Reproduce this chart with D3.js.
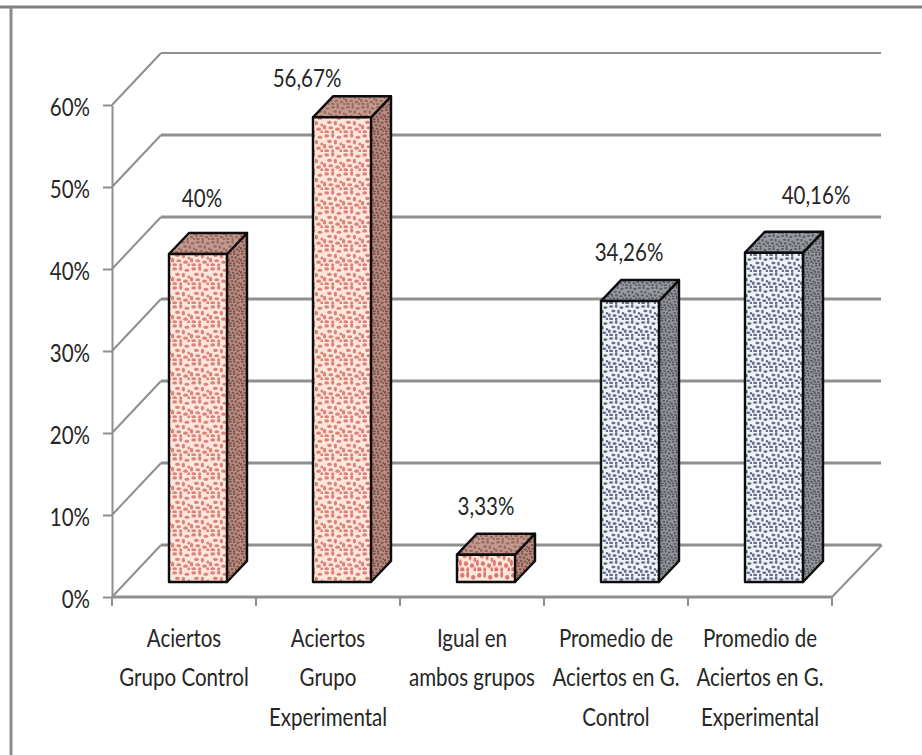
<!DOCTYPE html>
<html>
<head>
<meta charset="utf-8">
<script src="https://cdn.jsdelivr.net/npm/d3@7"></script>
<style>
  html, body { margin: 0; padding: 0; background: #fff; }
  svg { display: block; }
  text { font-family: Lato, "Open Sans", sans-serif; fill: #262626; }
</style>
</head>
<body>
<svg width="922" height="755"></svg>
<script>
const categories = [
  ["Aciertos", "Grupo Control"],
  ["Aciertos", "Grupo", "Experimental"],
  ["Igual en", "ambos grupos"],
  ["Promedio de", "Aciertos en G.", "Control"],
  ["Promedio de", "Aciertos en G.", "Experimental"]
];
const values = [40, 56.67, 3.33, 34.26, 40.16];
const valueLabels = ["40%", "56,67%", "3,33%", "34,26%", "40,16%"];
const seriesGroup = ["red", "red", "red", "blue", "blue"];
const yTicks = [0, 10, 20, 30, 40, 50, 60];

// hand moved data labels, same as in the original sheet
const labelNudge = [[-6, -6], [-45, 11], [-10, 1], [-11, 1], [32, -8]];

const GRID = "#8f8f8f";
const FONT_SIZE = 26;
const SQUEEZE = 0.79;
const FLOOR_DX = 49, FLOOR_DY = 52;
const BAR_DX = 15, BAR_DY = 15;
const DEPTH_X = 20, DEPTH_Y = 21;
const BAR_W = 58;

const svg = d3.select("svg");

const y = d3.scaleLinear().domain([0, 60]).range([597, 105]);
const x = d3.scaleBand().domain(d3.range(categories.length)).range([112, 832]);

// the reference font is condensed, so squash the real text
function squeeze(sel) {
  sel.each(function () {
    const t = d3.select(this);
    t.attr("x", (+t.attr("x") || 0) / SQUEEZE).attr("transform", `scale(${SQUEEZE},1)`);
  });
}

// speckle used for the bar fills
const speckle = [
  [1, 1, 3, 2], [6, 0, 2, 3], [10, 2, 3, 2], [3, 5, 3, 2], [8, 5, 2, 3],
  [0, 8, 2, 3], [12, 7, 2, 2], [4, 9, 3, 2], [9, 10, 3, 2], [1, 12, 3, 2], [6, 12, 2, 2], [12, 12, 2, 2]
];
const defs = svg.append("defs");
defs.append("filter").attr("id", "soft")
  .append("feGaussianBlur").attr("stdDeviation", 0.55);

function addPattern(id, base, dot, size, stretch) {
  const unit = size / 14;
  const p = defs.append("pattern")
    .attr("id", id)
    .attr("patternUnits", "userSpaceOnUse")
    .attr("width", size)
    .attr("height", size);
  if (stretch) p.attr("patternTransform", `scale(1,${stretch})`);
  p.append("rect").attr("width", size).attr("height", size).attr("fill", base);
  p.selectAll("rect.dot")
    .data(speckle)
    .enter()
    .append("rect")
    .attr("class", "dot")
    .attr("x", d => d[0] * unit)
    .attr("y", d => d[1] * unit)
    .attr("width", d => d[2] * unit * 1.15)
    .attr("height", d => d[3] * unit * 1.15)
    .attr("rx", size / 10)
    .attr("fill", dot);
}
addPattern("redFront", "#fde6dc", "#dc8278", 19);
addPattern("redFrontTall", "#fde6dc", "#d9766d", 17, 1.6);
addPattern("redTop", "#c39a8e", "#9c6a62", 15);
addPattern("redSide", "#b58a80", "#7f524c", 12);
addPattern("blueFront", "#f0f2f7", "#65708f", 16);
addPattern("blueTop", "#9a9ba0", "#5c5e66", 13);
addPattern("blueSide", "#939499", "#55575e", 11);

// frame of the pasted picture
svg.append("line").attr("x1", 0).attr("x2", 922).attr("y1", 7).attr("y2", 7)
  .attr("stroke", "#808080").attr("stroke-width", 3);
svg.append("line").attr("x1", 11).attr("x2", 11).attr("y1", 7).attr("y2", 755)
  .attr("stroke", "#8c8c8c").attr("stroke-width", 3);

// back wall gridlines and side wall diagonals
const grid = svg.append("g").attr("stroke", GRID).attr("fill", "none");
grid.selectAll(".back")
  .data(yTicks)
  .enter()
  .append("path")
  .attr("class", "back")
  .attr("stroke-width", d => d === 60 ? 2 : 3)
  .attr("d", d => `M${x.range()[0] + FLOOR_DX},${y(d) - FLOOR_DY}H${x.range()[1] + FLOOR_DX}`);
grid.selectAll(".diag")
  .data(yTicks)
  .enter()
  .append("path")
  .attr("class", "diag")
  .attr("stroke-width", 2)
  .attr("d", d => `M${x.range()[0]},${y(d)}l${FLOOR_DX},${-FLOOR_DY}`);
grid.append("path")
  .attr("stroke-width", 2)
  .attr("d", `M${x.range()[1]},${y(0)}l${FLOOR_DX + 1},${-FLOOR_DY}`);

// y axis
const yAxis = svg.append("g")
  .attr("transform", `translate(${x.range()[0]},0)`)
  .call(d3.axisLeft(y).tickValues(yTicks).tickFormat(d => d + "%").tickSize(9).tickPadding(13).tickSizeOuter(0));
yAxis.select(".domain").attr("stroke", GRID).attr("stroke-width", 2);
yAxis.selectAll(".tick line").attr("stroke", GRID).attr("stroke-width", 2);
yAxis.selectAll(".tick text")
  .attr("font-size", FONT_SIZE)
  .attr("font-family", "Lato, 'Open Sans', sans-serif")
  .attr("fill", "#262626")
  .attr("dy", "0.4em")
  .call(squeeze);

// x axis, ticks sit between the categories
const edges = d3.range(categories.length + 1).map(i => x.range()[0] + i * x.bandwidth());
svg.append("line")
  .attr("x1", x.range()[0]).attr("x2", x.range()[1])
  .attr("y1", y(0)).attr("y2", y(0))
  .attr("stroke", GRID).attr("stroke-width", 3);
svg.selectAll(".xtick")
  .data(edges)
  .enter()
  .append("line")
  .attr("class", "xtick")
  .attr("x1", d => d).attr("x2", d => d)
  .attr("y1", y(0)).attr("y2", y(0) + 9)
  .attr("stroke", GRID).attr("stroke-width", 2);

// bars
const baseY = y(0) - BAR_DY;
const barTop = d => y(d) - BAR_DY;
const barX = i => x(i) + (x.bandwidth() - BAR_W) / 2 + BAR_DX - 1;

const bars = svg.selectAll(".bar")
  .data(values)
  .enter()
  .append("g")
  .attr("class", "bar")
  .attr("filter", "url(#soft)")
  .attr("stroke", "#111")
  .attr("stroke-width", 2.4)
  .attr("stroke-linejoin", "round");

bars.append("path")
  .attr("fill", (d, i) => `url(#${seriesGroup[i]}Side)`)
  .attr("d", (d, i) => {
    const r = barX(i) + BAR_W;
    return `M${r},${baseY}V${barTop(d)}l${DEPTH_X},${-DEPTH_Y}V${baseY - DEPTH_Y}Z`;
  });
bars.append("path")
  .attr("fill", (d, i) => `url(#${seriesGroup[i]}Top)`)
  .attr("d", (d, i) => `M${barX(i)},${barTop(d)}l${DEPTH_X},${-DEPTH_Y}h${BAR_W}l${-DEPTH_X},${DEPTH_Y}Z`);
bars.append("rect")
  // the short bar gets the pattern stretched, Excel scales it with the shape
  .attr("fill", (d, i) => `url(#${seriesGroup[i]}Front${d < 10 ? "Tall" : ""})`)
  .attr("x", (d, i) => barX(i))
  .attr("y", d => barTop(d))
  .attr("width", BAR_W)
  .attr("height", d => baseY - barTop(d));

// data labels
svg.selectAll(".vlabel")
  .data(valueLabels)
  .enter()
  .append("text")
  .attr("class", "vlabel")
  .attr("font-size", FONT_SIZE)
  .attr("text-anchor", "middle")
  .attr("x", (d, i) => barX(i) + BAR_W / 2 + DEPTH_X / 2 + labelNudge[i][0])
  .attr("y", (d, i) => barTop(values[i]) - DEPTH_Y - 20 + labelNudge[i][1])
  .text(d => d)
  .call(squeeze);

// category labels, one text per line
const catGroups = svg.selectAll(".cat")
  .data(categories)
  .enter()
  .append("g")
  .attr("class", "cat")
  .attr("transform", (d, i) => `translate(${x(i) + x.bandwidth() / 2},647)`);
catGroups.selectAll("text")
  .data(d => d)
  .enter()
  .append("text")
  .attr("font-size", FONT_SIZE)
  .attr("text-anchor", "middle")
  .attr("y", (d, i) => i * 39.5)
  .text(d => d)
  .call(squeeze);
</script>
</body>
</html>
